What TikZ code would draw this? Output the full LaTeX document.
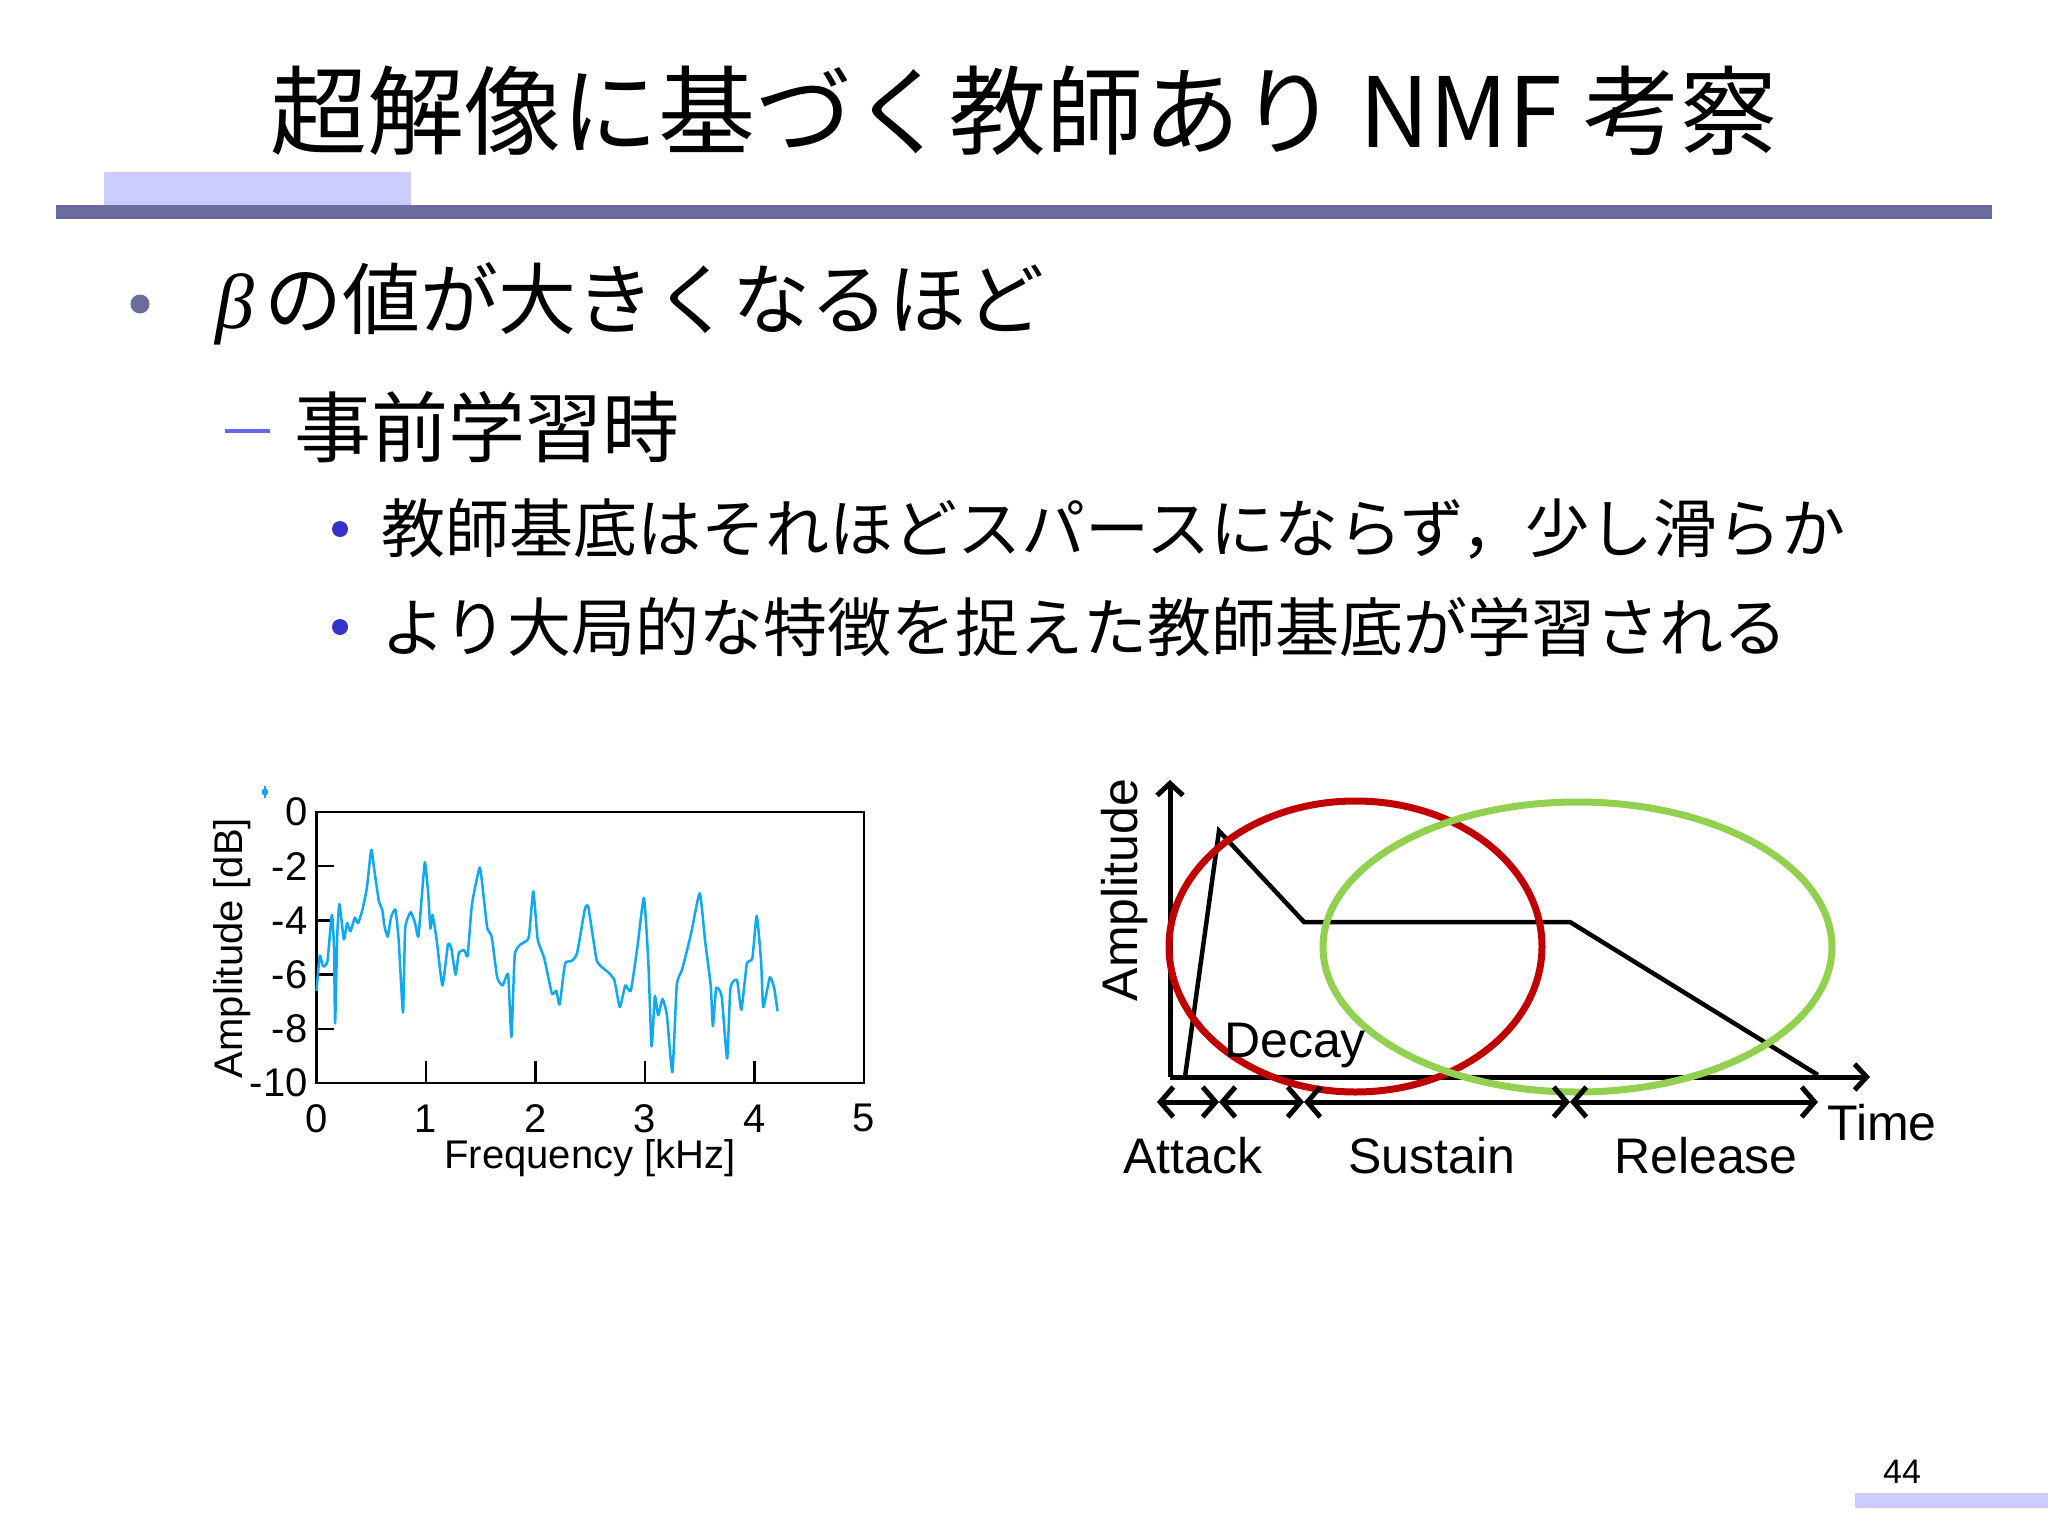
\documentclass[tikz,border=0pt]{standalone}
\usepackage{fontspec}
\setmainfont{Liberation Sans}
\newfontfamily\jp{Noto Sans CJK JP}
\newfontfamily\betafont{Liberation Serif}
\usetikzlibrary{arrows.meta}
\definecolor{bardark}{HTML}{6B6B9E}
\definecolor{barlight}{HTML}{CCCCFF}
\definecolor{curveblue}{HTML}{10A8F0}
\definecolor{ered}{HTML}{C00000}
\definecolor{egreen}{HTML}{92D050}
\tikzset{
  jtext/.style={inner sep=0pt, anchor=west, font=\jp\fontsize{#1}{#1}\selectfont},
  lab/.style={inner sep=0pt, font=\fontsize{#1}{#1}\selectfont},
  dblarrow/.style={line width=5pt, {Straight Barb[length=13pt,width=30pt]}-{Straight Barb[length=13pt,width=30pt]}}
}
\begin{document}
\begin{tikzpicture}[x=1pt,y=-1pt]
\useasboundingbox (0,0) rectangle (2048,1536);
\fill[white] (0,0) rectangle (2048,1536);
% title
\node[inner sep=0pt, font=\jp\fontsize{97}{97}\selectfont] (title) at (1024,111) {超解像に基づく教師あり NMF 考察};
\fill[barlight] (104,172) rectangle (411,205);
\fill[bardark] (56,205) rectangle (1992,219);
% bullets
\fill[bardark] (140,304) circle (9.5);
\node[jtext=78] (b1) at (215,304) {{\betafont\itshape β}\hspace{10pt}の値が大きくなるほど};
\draw[color={rgb,255:red,102;green,102;blue,238}, line width=4pt] (225,431) -- (270,431);
\node[jtext=77] (b2) at (294,427) {事前学習時};
\fill[color={rgb,255:red,51;green,51;blue,204}] (340,529) circle (8);
\node[jtext=64] (b3) at (381,529) {教師基底はそれほどスパースにならず，少し滑らか};
\fill[color={rgb,255:red,51;green,51;blue,204}] (340,627) circle (8);
\node[jtext=64] (b4) at (381,627) {より大局的な特徴を捉えた教師基底が学習される};
% page number
\node[lab=34] (pg) at (1902,1472) {44};
\fill[barlight] (1855,1493) rectangle (2048,1508);
% plot 1
\begin{scope}[shift={(316.5,1083)}, x=109.5pt, y=27.1pt]
  \draw[line width=2.5pt] (0,0) rectangle (5,10);
  \foreach \t in {1,2,3,4} \draw[line width=2.5pt] (\t,0) -- (\t,0.8);
  \foreach \t in {2,4,6,8} \draw[line width=2.5pt] (0,\t) -- (0.16,\t);
  \foreach \t in {0,1,2,3,4,5} \node[lab=40] (xt\t) at (\t,-1.3) {\t};
  \foreach \t/\l in {0/-10,2/-8,4/-6,6/-4,8/-2,10/0} \node[lab=40, anchor=east] (yt\t) at (-0.08,\t) {\l};
  \draw[curveblue, line width=2.5pt, line join=round] plot[smooth, tension=0.3] coordinates {
(0,3.4)(0.03,4.7)(0.06,4.3)(0.1,4.5)(0.14,6.2)(0.16,5)(0.17,2.2)(0.19,5.5)(0.21,6.6)(0.25,5.3)(0.28,5.9)(0.31,5.6)(0.35,6.1)(0.38,5.9)(0.42,6.4)(0.46,7.2)(0.5,8.6)(0.53,7.8)(0.57,6.7)(0.6,6.4)(0.62,5.8)(0.65,5.4)(0.68,6.1)(0.72,6.4)(0.75,5.3)(0.79,2.6)(0.81,5.7)(0.86,6.3)(0.9,5.9)(0.93,5.4)(0.96,6.8)(0.99,8.15)(1.02,7)(1.04,5.7)(1.06,6.2)(1.1,5.2)(1.15,3.6)(1.2,5.1)(1.23,5)(1.27,4)(1.3,4.8)(1.35,4.9)(1.38,4.7)(1.42,6.6)(1.49,7.95)(1.52,7.1)(1.56,5.7)(1.6,5.4)(1.65,3.9)(1.7,3.6)(1.75,4.0)(1.78,1.7)(1.81,4.7)(1.86,5.1)(1.9,5.2)(1.94,5.4)(1.98,7.07)(2.02,5.3)(2.08,4.6)(2.15,3.3)(2.19,3.4)(2.22,2.9)(2.27,4.4)(2.33,4.5)(2.38,4.8)(2.45,6.4)(2.48,6.54)(2.52,5.5)(2.56,4.5)(2.6,4.3)(2.66,4.1)(2.72,3.8)(2.77,2.8)(2.82,3.6)(2.87,3.4)(2.93,5.0)(2.99,6.83)(3.03,4.5)(3.06,1.35)(3.09,3.2)(3.12,2.5)(3.16,3.1)(3.2,2.5)(3.25,0.4)(3.29,3.6)(3.34,4.2)(3.42,5.5)(3.5,7.0)(3.55,5.2)(3.6,3.6)(3.62,2.1)(3.65,3.5)(3.7,3.2)(3.75,0.9)(3.78,3.5)(3.84,3.8)(3.88,2.7)(3.93,4.4)(3.98,4.6)(4.02,6.17)(4.06,4.5)(4.08,2.8)(4.14,3.9)(4.18,3.5)(4.21,2.65)};
\end{scope}
\fill[curveblue] (265,792) circle (3.5);
\draw[curveblue, line width=2pt] (265,786) -- (265,798);
\node[lab=40, rotate=90] (ylab1) at (232,948) {Amplitude [dB]};
\node[lab=40] (xlab1) at (590,1158) {Frequency [kHz]};
% plot 2
\coordinate (o) at (1170,1077);
\coordinate (ytop) at (1170,780);
\coordinate (xtip) at (1870,1077);
\draw[line width=5pt, -{Straight Barb[length=12pt,width=26pt]}] (o) -- (ytop);
\draw[line width=5pt, -{Straight Barb[length=12pt,width=26pt]}] (o) -- (xtip);
\coordinate (e0) at (1185,1077);
\coordinate (e1) at (1219,831);
\coordinate (e2) at (1304,922);
\coordinate (e3) at (1570,922);
\coordinate (e4) at (1818,1075);
\draw[line width=4.5pt, line join=miter] (e0) -- (e1) -- (e2) -- (e3) -- (e4);
\draw[ered, line width=7pt] (1355.5,946.5) ellipse (186.5 and 145.5);
\draw[egreen, line width=7pt] (1577.5,947) ellipse (254.5 and 145);
\coordinate (a0) at (1157,1102);
\coordinate (a1) at (1219,1102);
\coordinate (a2) at (1304,1102);
\coordinate (a3) at (1570,1102);
\coordinate (a4) at (1818,1102);
\draw[dblarrow] (a0) -- (a1);
\draw[dblarrow] (a1) -- (a2);
\draw[dblarrow] (a2) -- (a3);
\draw[dblarrow] (a3) -- (a4);
\node[lab=50] (att) at (1193,1156) {Attack};
\node[lab=50] (sus) at (1432,1156) {Sustain};
\node[lab=50] (rel) at (1706,1156) {Release};
\node[lab=50] (tim) at (1882,1123) {Time};
\node[lab=50] (dec) at (1295,1045) {Decay};
\node[lab=50, rotate=90] (amp) at (1125,890) {Amplitude};
\end{tikzpicture}
\end{document}
